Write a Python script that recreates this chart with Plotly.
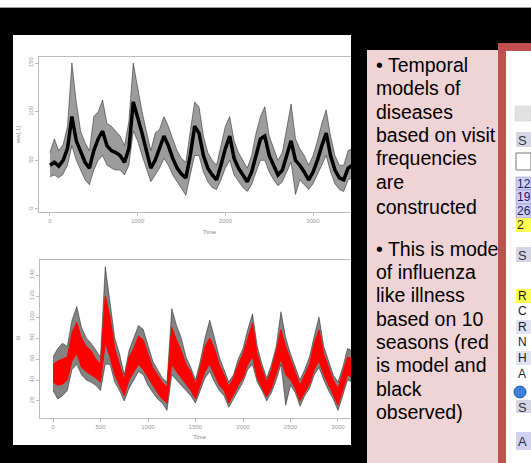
import plotly.graph_objects as go

W, H = 531, 463

# ---------------- data ----------------
# Upper panel: observed ILI visits over time (envelope of noisy series)
t_up = list(range(0, 3451, 50))
up_mid = [45, 48, 44, 50, 62, 95, 70, 58, 48, 42,
          60, 72, 80, 65, 60, 58, 55, 48, 62, 110,
          95, 78, 60, 42, 50, 62, 75, 65, 52, 42,
          36, 32, 55, 85, 78, 55, 42, 35, 30, 45,
          62, 75, 52, 42, 35, 28, 38, 55, 72, 75,
          55, 45, 35, 40, 55, 70, 50, 45, 38, 30,
          38, 50, 65, 78, 55, 40, 32, 30, 42, 45]
up_lo = [33, 35, 32, 36, 45, 65, 50, 40, 30, 25,
         40, 50, 55, 45, 42, 40, 40, 35, 45, 80,
         70, 55, 42, 28, 35, 42, 52, 45, 35, 28,
         22, 14, 35, 55, 55, 38, 28, 22, 20, 30,
         42, 50, 35, 28, 22, 18, 25, 38, 50, 50,
         38, 30, 24, 28, 38, 48, 15, 30, 25, 20,
         26, 35, 45, 55, 38, 26, 20, 18, 30, 32]
up_hi = [58, 72, 60, 66, 85, 150, 110, 80, 68, 60,
         95, 100, 112, 88, 85, 80, 75, 65, 90, 150,
         125, 100, 80, 60, 78, 82, 95, 85, 72, 60,
         52, 48, 80, 110, 105, 75, 58, 50, 45, 65,
         85, 95, 70, 58, 50, 42, 55, 78, 95, 105,
         75, 62, 50, 58, 85, 108, 72, 62, 55, 45,
         55, 70, 88, 102, 75, 55, 45, 45, 60, 62]
up_xticks = [0, 1000, 2000, 3000]
up_yticks = [0, 50, 100, 150]

# Lower panel: observed (black) vs model (red)
t_lo = list(range(0, 3201, 50))
obs_lo = [30, 22, 25, 30, 50, 55, 45, 40, 38, 35,
          30, 55, 55, 38, 30, 20, 32, 40, 48, 45,
          35, 28, 22, 18, 11, 45, 40, 35, 30, 25,
          18, 30, 42, 48, 38, 30, 25, 14, 22, 30,
          38, 50, 55, 38, 30, 20, 28, 40, 55, 16,
          35, 28, 15, 25, 32, 45, 52, 40, 30, 22,
          11, 25, 40, 38, 35]
obs_hi = [62, 70, 75, 72, 97, 110, 90, 80, 75, 68,
          62, 148, 115, 80, 65, 45, 68, 80, 92, 88,
          72, 58, 50, 42, 38, 108, 92, 80, 62, 52,
          40, 58, 80, 97, 80, 62, 50, 38, 45, 60,
          70, 88, 103, 72, 55, 42, 55, 72, 105, 80,
          65, 52, 40, 50, 62, 82, 100, 72, 58, 45,
          38, 52, 70, 68, 62]
mod_lo = [38, 35, 36, 40, 58, 65, 52, 48, 45, 42,
          38, 75, 62, 45, 35, 25, 40, 48, 55, 50,
          42, 35, 28, 22, 18, 55, 48, 42, 36, 30,
          22, 35, 48, 55, 45, 35, 30, 18, 26, 35,
          42, 55, 62, 42, 32, 24, 32, 45, 60, 45,
          40, 32, 20, 28, 36, 50, 58, 45, 35, 26,
          16, 30, 45, 42, 40]
mod_hi = [55, 58, 60, 62, 85, 95, 80, 72, 68, 60,
          55, 120, 100, 70, 55, 40, 62, 70, 82, 78,
          65, 52, 45, 38, 33, 90, 78, 68, 55, 48,
          36, 52, 72, 80, 70, 55, 45, 34, 42, 55,
          65, 80, 94, 65, 50, 38, 50, 68, 88, 72,
          60, 48, 35, 45, 55, 75, 88, 65, 52, 40,
          32, 48, 62, 60, 58]
lo_xticks = [0, 500, 1000, 1500, 2000, 2500, 3000]
lo_yticks = [20, 40, 60, 80, 100, 120, 140]

bullet1 = ["\u2022 Temporal", "models of", "diseases", "based on visit",
           "frequencies", "are", "constructed"]
bullet2 = ["\u2022 This is mode", "of influenza", "like illness", "based on 10",
           "seasons (red", "is model and", "black", "observed)"]

# ---------------- helpers ----------------
def px(x):
    return x / W

def py(y):
    return 1 - y / H

fig = go.Figure()

# upper series
fig.add_trace(go.Scatter(x=t_up, y=up_lo, mode="lines", xaxis="x", yaxis="y",
                         line=dict(width=0.8, color="rgba(0,0,0,0.55)"),
                         showlegend=False, hoverinfo="skip"))
fig.add_trace(go.Scatter(x=t_up, y=up_hi, mode="lines", xaxis="x", yaxis="y",
                         fill="tonexty", fillcolor="rgba(20,20,20,0.42)",
                         line=dict(width=0.8, color="rgba(0,0,0,0.55)"),
                         showlegend=False, hoverinfo="skip"))
fig.add_trace(go.Scatter(x=t_up, y=up_mid, mode="lines", xaxis="x", yaxis="y",
                         line=dict(width=3.5, color="black"),
                         showlegend=False))

# lower: observed band
fig.add_trace(go.Scatter(x=t_lo, y=obs_lo, mode="lines", xaxis="x2", yaxis="y2",
                         line=dict(width=0.8, color="rgba(0,0,0,0.55)"),
                         showlegend=False, hoverinfo="skip"))
fig.add_trace(go.Scatter(x=t_lo, y=obs_hi, mode="lines", xaxis="x2", yaxis="y2",
                         fill="tonexty", fillcolor="rgba(30,30,30,0.55)",
                         line=dict(width=0.8, color="rgba(0,0,0,0.55)"),
                         showlegend=False, hoverinfo="skip"))
# lower: model band
fig.add_trace(go.Scatter(x=t_lo, y=mod_lo, mode="lines", xaxis="x2", yaxis="y2",
                         line=dict(width=1, color="#ff0000"),
                         showlegend=False, hoverinfo="skip"))
fig.add_trace(go.Scatter(x=t_lo, y=mod_hi, mode="lines", xaxis="x2", yaxis="y2",
                         fill="tonexty", fillcolor="#ff0000",
                         line=dict(width=1, color="#ff0000"),
                         showlegend=False, hoverinfo="skip"))

axis_common = dict(showline=True, linecolor="#bbbbbb", linewidth=1,
                   ticks="outside", ticklen=3, tickcolor="#bbbbbb",
                   tickfont=dict(size=6, color="#999999", family="Liberation Sans"),
                   showgrid=False, zeroline=False)

fig.update_layout(
    width=W, height=H,
    margin=dict(l=0, r=0, t=0, b=0),
    paper_bgcolor="black", plot_bgcolor="white",
    showlegend=False,
    xaxis=dict(domain=[px(39), px(351)], range=[-125, 3433], anchor="y",
               tickvals=up_xticks, mirror=True, **axis_common),
    yaxis=dict(domain=[py(212), py(57)], range=[-3.1, 156.2], anchor="x",
               tickvals=up_yticks, tickangle=-90, **axis_common),
    xaxis2=dict(domain=[px(40), px(351)], range=[-137, 3137], anchor="y2",
                tickvals=lo_xticks, mirror=True, **axis_common),
    yaxis2=dict(domain=[py(418), py(260)], range=[3.8, 154.3], anchor="x2",
                tickvals=lo_yticks, tickangle=-90, **axis_common),
)

shapes = []
def rect(x0, y0, x1, y1, fill, line=None, lw=0, layer="below"):
    shapes.append(dict(type="rect", xref="paper", yref="paper",
                       x0=px(x0), x1=px(x1), y0=py(y1), y1=py(y0),
                       fillcolor=fill, line=dict(width=lw, color=line or fill),
                       layer=layer))

# slide background pieces
rect(0, 0, 531, 7, "white")
rect(0, 7, 531, 8, "#9a9a9a")
rect(13, 35, 351, 445, "white")
rect(367, 50, 498, 463, "#efd3d5")
rect(498, 43, 506, 463, "#c0504d")
rect(498, 43, 531, 51, "#c0504d")
rect(506, 51, 531, 463, "white")

# right UI panel fragments
rect(515, 106, 531, 121, "#e2e2e2", line="#cccccc", lw=0.5)
rect(516, 132, 531, 147, "#d6d6e6")
rect(516, 153, 531, 170, "white", line="#777777", lw=1)
rect(516, 177, 531, 190, "#d0d0f2", line="#8888cc", lw=0.5)
rect(516, 190, 531, 204, "#d0d0f2", line="#8888cc", lw=0.5)
rect(516, 204, 531, 218, "#d0d0f2", line="#8888cc", lw=0.5)
rect(516, 218, 531, 232, "#ffff55")
rect(516, 247, 531, 262, "#d6d6e6")
rect(516, 289, 531, 303, "#ffff55")
rect(516, 320, 531, 334, "#e2e2f2")
rect(516, 351, 531, 365, "#e2e2f2")
rect(516, 400, 531, 413, "#d6d6e6")
rect(516, 432, 531, 450, "#d0d0f0")
shapes.append(dict(type="circle", xref="paper", yref="paper",
                   x0=px(514), x1=px(526), y0=py(398), y1=py(386),
                   fillcolor="#3f7fd8", line=dict(width=1, color="#1d4f9c"),
                   layer="above"))

fig.update_layout(shapes=shapes)

ann = []
def text(x, y, s, size, color="black", xanchor="left", angle=0, family="Liberation Sans, Arial"):
    ann.append(dict(xref="paper", yref="paper", x=px(x), y=py(y), text=s,
                    showarrow=False, xanchor=xanchor, yanchor="middle",
                    textangle=angle,
                    font=dict(size=size, color=color, family=family)))

# pink box text
ys1 = [65, 88, 112, 135, 158, 182, 207]
ys2 = [249, 272, 295, 319, 342, 365, 389, 412]
for s, y in zip(bullet1, ys1):
    text(374, y, s, 19.5)
for s, y in zip(bullet2, ys2):
    text(374, y, s, 19.5)

# axis titles
text(210, 232, "Time", 6, "#888888", xanchor="center")
text(200, 437, "Time", 6, "#888888", xanchor="center")
text(18, 135, "ww[,1]", 6, "#888888", xanchor="center", angle=-90)
text(18, 338, "ili", 6, "#888888", xanchor="center", angle=-90)

# right panel fragments text
text(516, 140, "S", 13, "#333333")
text(515, 184, "12", 12, "#1a1a66")
text(515, 197, "19", 12, "#1a1a66")
text(515, 211, "26", 12, "#1a1a66")
text(515, 225, "2", 12, "#1a1a1a")
text(516, 255, "S", 13, "#333333")
text(516, 296, "R", 12, "#1a1a1a")
text(516, 311, "C", 12, "#1a1a1a")
text(516, 327, "R", 12, "#1a1a1a")
text(516, 342, "N", 12, "#1a1a1a")
text(516, 358, "H", 12, "#1a1a1a")
text(516, 374, "A", 12, "#1a1a1a")
text(516, 407, "S", 13, "#333333")
text(516, 441, "A", 13, "#333333")

fig.update_layout(annotations=ann)

fig.write_html(
    "out.html",
    config={"displayModeBar": False},
    post_script="document.body.style.margin='0';"
                "document.documentElement.style.overflow='hidden';"
                "document.body.style.overflow='hidden';",
)
